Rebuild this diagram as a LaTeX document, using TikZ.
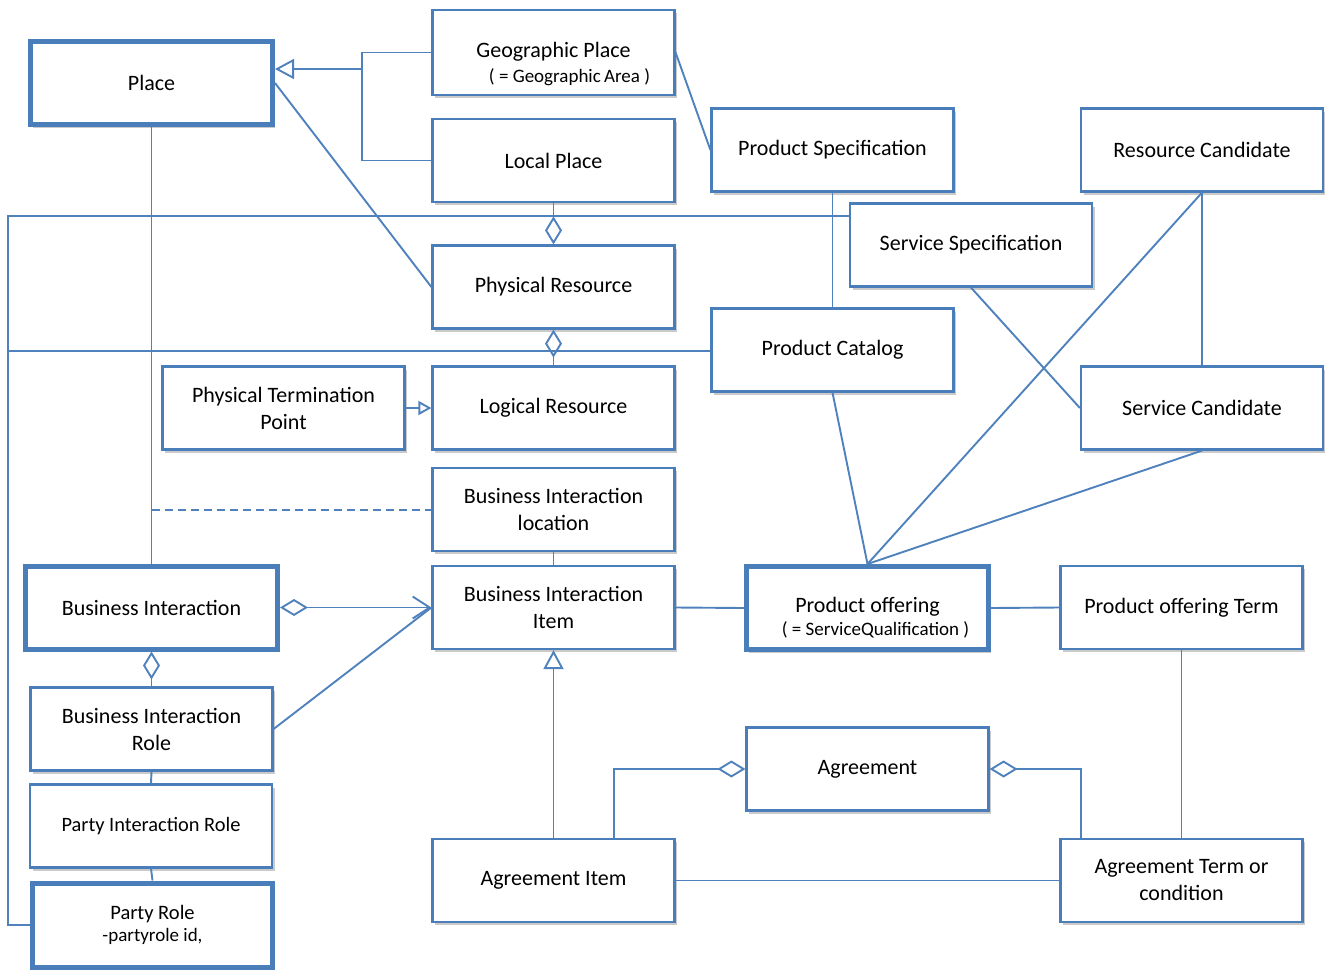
\documentclass[tikz,border=0pt]{standalone}
\usepackage{fontspec}
\setmainfont{Carlito}
\usetikzlibrary{arrows.meta,shadows}
\definecolor{ublue}{HTML}{4F81BD}
\definecolor{bblue}{HTML}{4A7EBB}
\newcommand{\smalltxt}{\fontsize{19pt}{22pt}\selectfont}
\tikzset{
  agg/.tip={Diamond[open,length=28pt,width=17pt]},
  gen/.tip={Triangle[open,length=19pt,width=20pt]},
  gensmall/.tip={Triangle[open,length=13pt,width=14pt]},
  nav/.tip={Straight Barb[length=17pt,width=22pt]},
  box/.style={draw=bblue,line width=2.2pt,fill=white,minimum width=242pt,minimum height=83pt,
    align=center,inner sep=2pt,font=\fontsize{22pt}{27pt}\selectfont,
    drop shadow={shadow xshift=2.5pt,shadow yshift=-3pt,opacity=0.35,fill=black!60}},
  thickbox/.style={box,line width=5pt},
  conn/.style={draw=ublue,line width=1.9pt},
  txt/.style={align=center,inner sep=0pt,font=\fontsize{22pt}{25pt}\selectfont},
}
\begin{document}
\begin{tikzpicture}[x=1pt,y=-1pt]
\useasboundingbox (0,0) rectangle (1325,972);
% nodes
\node[thickbox] (pl) at (151.5,83) {Place};
\node[box,minimum height=85pt] (gp) at (553.5,52.5) {};
\node[txt] (gptxt) at (553.5,64) {Geographic Place\\[0pt]\hspace*{32pt}{\smalltxt ( = Geographic\,Area )}};
\node[box] (lp) at (553.5,160.5) {Local Place};
\node[box] (phr) at (553.5,287) {Physical Resource};
\node[box] (lr) at (553.5,408) {Logical Resource};
\node[box] (ptp) at (283.5,408) {Physical Termination\\Point};
\node[box] (bil) at (553.5,509.5) {Business Interaction\\location};
\node[box] (bii) at (553.5,607.5) {Business Interaction\\Item};
\node[thickbox,minimum width=252pt] (bi) at (151.5,607.5) {Business Interaction};
\node[box] (bir) at (151.5,729) {Business Interaction\\Role};
\node[box,font=\fontsize{20.4pt}{26pt}\selectfont] (pir) at (151,826) {Party Interaction Role};
\node[thickbox,minimum width=240pt,minimum height=84pt,font=\fontsize{20.5pt}{24pt}\selectfont] (prr) at (152.5,925) {Party Role\\[-2pt]{\smalltxt -partyrole id,}};
\node[box] (ai) at (553.5,880.5) {Agreement Item};
\node[box] (ag) at (867.5,769) {Agreement};
\node[box] (atc) at (1181.5,880.5) {Agreement Term or\\condition};
\node[thickbox] (po) at (867.5,608) {};
\node[txt] (potxt) at (867.5,618) {Product offering\\[-2pt]\hspace*{16pt}{\smalltxt ( = ServiceQualification )}};
\node[box] (pot) at (1181.5,607.5) {Product offering Term};
\node[box] (ps) at (832.5,150) {Product Specification};
\node[box] (ss) at (971,245) {Service Specification};
\node[box] (pc) at (832.5,350) {Product Catalog};
\node[box] (rc) at (1202,150) {Resource Candidate};
\node[box] (sc) at (1202,408) {Service Candidate};
% coordinates
\coordinate (J) at (362,69);
\coordinate (L1) at (8,216);
\coordinate (L2) at (8,351);
\coordinate (D) at (151.5,510);
\coordinate (K1) at (614,769);
\coordinate (K2) at (1081,769);
% connectors
\draw[conn] (gp.west) -| (J) |- (lp.west);
\draw[conn,-gen] (J) -- (pl.east |- J);
\draw[conn] (pl.east) -- (phr.west);
\draw[conn] (pl.south) -- (bi.north);
\draw[conn] (gp.east) -- (ps.west);
\draw[conn] (prr.west) -| (L1) -- (ss.west |- L1);
\draw[conn] (L2) -- (pc.west |- L2);
\draw[conn,-agg] (lp.south) -- (phr.north);
\draw[conn,agg-] (phr.south) -- (lr.north);
\draw[conn,-gensmall] (ptp.east) -- (lr.west);
\draw[conn,dash pattern=on 8pt off 5pt] (D) -- (bil.west |- D);
\draw[conn] (bil.south) -- (bii.north);
\draw[conn,agg-nav] (bi.east) -- (bii.west);
\draw[conn] (bir.east) -- (bii.west);
\draw[conn,agg-] (bi.south) -- (bir.north);
\draw[conn] (bir.south) -- (pir.north);
\draw[conn] (pir.south) -- (prr.north);
\draw[conn] (bii.east) -- (po.west);
\draw[conn] (po.east) -- (pot.west);
\draw[conn] (pot.south) -- (atc.north);
\draw[conn,agg-] (ag.east) -- (K2) -- (K2 |- atc.north);
\draw[conn,agg-] (ag.west) -- (K1) -- (K1 |- ai.north);
\draw[conn,-gen] (ai.north) -- (bii.south);
\draw[conn] (ai.east) -- (atc.west);
\draw[conn] (po.north) -- (pc.south);
\draw[conn] (po.north) -- (rc.south);
\draw[conn] (po.north) -- (sc.south);
\draw[conn] (ps.south) -- (pc.north);
\draw[conn] (ss.south) -- (sc.west);
\draw[conn] (rc.south) -- (sc.north);
\end{tikzpicture}
\end{document}
